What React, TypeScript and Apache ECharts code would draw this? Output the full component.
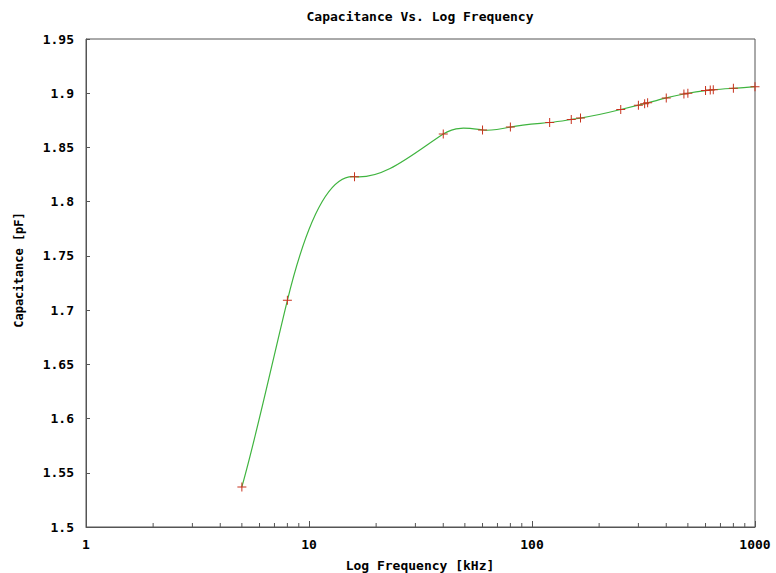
import React, { useEffect, useRef } from "react";
import * as echarts from "echarts";

const frequencies = [5, 8, 16, 40, 60, 80, 120, 150, 165, 250, 300, 320, 330, 400, 480, 500, 600, 630, 650, 800, 1000];
const capacitance = [1.537, 1.709, 1.823, 1.8624, 1.8661, 1.8688, 1.873, 1.8758, 1.8771, 1.885, 1.889, 1.8904, 1.8911, 1.8957, 1.8993, 1.9, 1.9024, 1.9029, 1.9032, 1.9045, 1.906];
const minorTickValues = [2, 3, 4, 5, 6, 7, 8, 9, 20, 30, 40, 50, 60, 70, 80, 90, 200, 300, 400, 500, 600, 700, 800, 900];

const MONO = "'DejaVu Sans Mono', 'Liberation Mono', monospace";

// natural cubic spline end slopes of each segment (dy/dx), used as bezier tangents for rendering
function splineTangents(xs: number[], ys: number[]) {
  const n = xs.length;
  const h: number[] = [];
  for (let i = 0; i < n - 1; i++) h.push(xs[i + 1] - xs[i]);
  const M = new Array(n).fill(0);
  const a: number[] = [], b: number[] = [], c: number[] = [], d: number[] = [];
  for (let i = 1; i < n - 1; i++) {
    a.push(h[i - 1]);
    b.push(2 * (h[i - 1] + h[i]));
    c.push(h[i]);
    d.push(6 * ((ys[i + 1] - ys[i]) / h[i] - (ys[i] - ys[i - 1]) / h[i - 1]));
  }
  const m = b.length;
  for (let i = 1; i < m; i++) {
    const w = a[i] / b[i - 1];
    b[i] -= w * c[i - 1];
    d[i] -= w * d[i - 1];
  }
  const sol = new Array(m).fill(0);
  for (let i = m - 1; i >= 0; i--) sol[i] = (d[i] - (i < m - 1 ? c[i] * sol[i + 1] : 0)) / b[i];
  for (let i = 0; i < m; i++) M[i + 1] = sol[i];
  const left: number[] = [], right: number[] = [];
  for (let i = 0; i < n - 1; i++) {
    const s = (ys[i + 1] - ys[i]) / h[i];
    left.push(s - (h[i] * (2 * M[i] + M[i + 1])) / 6);
    right.push(s + (h[i] * (M[i] + 2 * M[i + 1])) / 6);
  }
  return { left, right };
}

export default function App() {
  const ref = useRef<HTMLDivElement>(null);
  useEffect(() => {
    if (!ref.current) return;
    const chart = echarts.init(ref.current, undefined, { renderer: "svg" });
    const pts = frequencies.map((f, i) => [f, capacitance[i]]);
    const lx = frequencies.map((f) => Math.log10(f));
    const tan = splineTangents(frequencies, capacitance);
    const gridLeft = 86, gridTop = 39, gridW = 669, gridH = 488;
    chart.setOption({
      animation: false,
      backgroundColor: "#ffffff",
      grid: {
        left: gridLeft, top: gridTop, width: gridW, height: gridH,
        show: true, borderColor: "#555", borderWidth: 1, backgroundColor: "transparent",
      },
      xAxis: {
        type: "log", logBase: 10, min: 1, max: 1000,
        axisLine: { show: true, lineStyle: { color: "#555", width: 1 } },
        axisTick: { show: true, inside: true, length: 6, lineStyle: { color: "#555" } },
        splitLine: { show: false },
        axisLabel: {
          formatter: (v: number) => String(Math.round(v)),
          fontFamily: MONO, fontWeight: "bold", fontSize: 13, color: "#000", margin: 11,
        },
      },
      yAxis: {
        type: "value", min: 1.5, max: 1.95, interval: 0.05,
        axisLine: { show: true, lineStyle: { color: "#555", width: 1 } },
        axisTick: { show: true, inside: true, length: 4, lineStyle: { color: "#555" } },
        splitLine: { show: false },
        axisLabel: {
          formatter: (v: number) => String(parseFloat(v.toFixed(2))),
          fontFamily: MONO, fontWeight: "bold", fontSize: 13, color: "#000", margin: 12,
        },
      },
      series: [
        {
          type: "custom",
          coordinateSystem: "cartesian2d",
          data: pts,
          encode: { x: 0, y: 1 },
          z: 2,
          renderItem: (params: any, api: any) => {
            const i = params.dataIndex;
            if (i >= pts.length - 1) return null;
            const hu = lx[i + 1] - lx[i];
            const sL = tan.left[i] * frequencies[i] * Math.LN10;
            const sR = tan.right[i] * frequencies[i + 1] * Math.LN10;
            const p0 = api.coord([frequencies[i], capacitance[i]]);
            const p3 = api.coord([frequencies[i + 1], capacitance[i + 1]]);
            const p1 = api.coord([Math.pow(10, lx[i] + hu / 3), capacitance[i] + (sL * hu) / 3]);
            const p2 = api.coord([Math.pow(10, lx[i + 1] - hu / 3), capacitance[i + 1] - (sR * hu) / 3]);
            return {
              type: "path",
              shape: {
                pathData: `M${p0[0]},${p0[1]}C${p1[0]},${p1[1]} ${p2[0]},${p2[1]} ${p3[0]},${p3[1]}`,
              },
              style: { stroke: "#3fb43f", fill: "none", lineWidth: 1.2 },
            };
          },
        },
        {
          type: "scatter", data: pts,
          symbol: "path://M4,0H5V9H4Z M0,4H9V5H0Z", symbolSize: 9,
          itemStyle: { color: "#c8321e", opacity: 1 }, z: 3,
        },
      ],
    });
    const g: any[] = [];
    g.push({
      type: "text",
      style: { text: "Capacitance Vs. Log Frequency", x: 420, y: 16, fontFamily: MONO, fontWeight: "bold", fontSize: 13, fill: "#000", align: "center", verticalAlign: "middle" },
    });
    g.push({
      type: "text",
      style: { text: "Log Frequency [kHz]", x: 420, y: 565, fontFamily: MONO, fontWeight: "bold", fontSize: 13, fill: "#000", align: "center", verticalAlign: "middle" },
    });
    g.push({
      type: "text", x: 19, y: 270, rotation: Math.PI / 2,
      style: { text: "Capacitance [pF]", x: 0, y: 0, fontFamily: MONO, fontWeight: "bold", fontSize: 12, fill: "#000", align: "center", verticalAlign: "middle" },
    });
    const bottom = gridTop + gridH;
    minorTickValues.forEach((v) => {
      const px = chart.convertToPixel({ xAxisIndex: 0 }, v) as number;
      g.push({ type: "line", shape: { x1: px, y1: bottom, x2: px, y2: bottom - 4 }, style: { stroke: "#555", lineWidth: 1 } });
    });
    chart.setOption({ graphic: g });
    return () => chart.dispose();
  }, []);
  return <div ref={ref} style={{ position: "absolute", left: 0, top: 0, width: 776, height: 573 }} />;
}
